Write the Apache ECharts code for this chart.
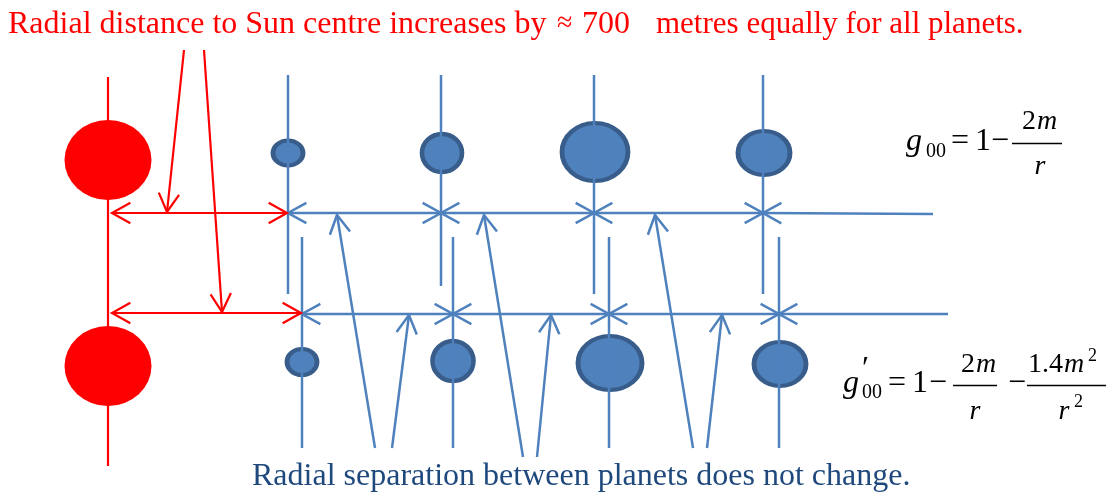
<!DOCTYPE html>
<html>
<head>
<meta charset="utf-8">
<script src="https://cdn.jsdelivr.net/npm/echarts@6/dist/echarts.min.js"></script>
<style>
  html, body { margin: 0; padding: 0; background: #fff; }
  #main { width: 1113px; height: 496px; }
</style>
</head>
<body>
<div id="main"></div>
<script>
// Diagram units: x to the right, y downwards, one unit per pixel of the figure
const RED = '#FF0000';
const BLUE = '#4F81BD';
const BLUE_DARK = '#385D8A';
const TEXT_BLUE = '#1F497D';
const SERIF = '"Liberation Serif", "Times New Roman", serif';

// Sun in both panels: [x, y, width, height]
const sunBodies = [[108, 160, 87, 80], [108, 366, 87, 80]];
// planets, upper panel (g00) and lower panel (g'00): [x, y, width, height]
const planetsBefore = [[288, 153, 30, 25], [442, 153, 40, 38], [595, 152, 66, 58], [764, 153, 52, 44]];
const planetsAfter = [[302, 362, 30, 26], [453, 361, 41, 40], [610, 363, 64, 54], [780, 364, 52, 44]];

// segments: [x1, y1, x2, y2, arrow at start, arrow at end]
const sunAxis = [[108, 77, 108, 466, 0, 0]];
const planetAxesBefore = [[288, 75, 288, 294, 0, 0], [441, 75, 441, 286, 0, 0], [594, 75, 594, 294, 0, 0], [763, 75, 763, 294, 0, 0]];
const planetAxesAfter = [[302, 237, 302, 448, 0, 0], [453, 237, 453, 448, 0, 0], [609, 237, 609, 448, 0, 0], [779, 237, 779, 448, 0, 0]];
const radialBefore = [[288, 213, 441, 213, 1, 1], [441, 213, 594, 213, 1, 1], [594, 213, 763, 213, 1, 1], [763, 213, 933, 214, 1, 0]];
const radialAfter = [[302, 314, 453, 314, 1, 1], [453, 314, 609, 314, 1, 1], [609, 314, 779, 314, 1, 1], [779, 314, 948, 314, 1, 0]];
const sunDistance = [[112, 213, 287, 213, 1, 1], [112, 313, 301, 313, 1, 1]];
const topPointers = [[184, 50, 167, 212, 0, 1], [204, 50, 222, 312, 0, 1]];
const bottomPointers = [
  [375, 448, 337, 215, 0, 1], [392, 448, 409, 315, 0, 1],
  [523, 457, 484, 215, 0, 1], [537, 457, 551, 315, 0, 1],
  [693, 448, 655, 215, 0, 1], [707, 448, 722, 315, 0, 1]
];

const chart = echarts.init(document.getElementById('main'));

// open "V" arrow head with its tip at `tip`, pointing away from `from`
function chevron(tip, from, color, width) {
  const ang = Math.atan2(from[1] - tip[1], from[0] - tip[0]);
  const len = 21;
  const spread = Math.PI / 6.2;
  return {
    type: 'polyline',
    shape: {
      points: [
        [tip[0] + len * Math.cos(ang + spread), tip[1] + len * Math.sin(ang + spread)],
        tip,
        [tip[0] + len * Math.cos(ang - spread), tip[1] + len * Math.sin(ang - spread)]
      ]
    },
    style: { stroke: color, lineWidth: width, fill: null }
  };
}

function segments(data, color, width) {
  return {
    type: 'custom',
    coordinateSystem: 'cartesian2d',
    data: data,
    clip: false,
    silent: true,
    z: 3,
    renderItem: function (params, api) {
      const a = api.coord([api.value(0), api.value(1)]);
      const b = api.coord([api.value(2), api.value(3)]);
      const children = [{
        type: 'line',
        shape: { x1: a[0], y1: a[1], x2: b[0], y2: b[1] },
        style: { stroke: color, lineWidth: width }
      }];
      if (api.value(4)) children.push(chevron(a, b, color, width));
      if (api.value(5)) children.push(chevron(b, a, color, width));
      return { type: 'group', children: children };
    }
  };
}

function bodies(data, fill, border) {
  return {
    type: 'scatter',
    data: data,
    silent: true,
    z: 2,
    symbol: 'circle',
    symbolSize: function (val) { return [val[2], val[3]]; },
    itemStyle: { color: fill, borderColor: border || fill, borderWidth: border ? 4.5 : 0, opacity: 1 }
  };
}

// text placed by its baseline
function txt(str, x, baseline, size, opts) {
  opts = opts || {};
  return {
    type: 'text',
    x: x,
    y: baseline - 0.34 * size,
    silent: true,
    style: {
      text: str,
      fill: opts.color || '#000',
      fontSize: size,
      fontFamily: SERIF,
      fontStyle: opts.italic ? 'italic' : 'normal',
      align: opts.align || 'left',
      verticalAlign: 'middle'
    }
  };
}

function bar(x1, x2, y) {
  return { type: 'line', silent: true, shape: { x1: x1, y1: y, x2: x2, y2: y }, style: { stroke: '#000', lineWidth: 1.4 } };
}

const I = { italic: true };

chart.setOption({
  animation: false,
  grid: { left: 0, right: 0, top: 0, bottom: 0 },
  xAxis: { type: 'value', min: 0, max: 1113, show: false },
  yAxis: { type: 'value', min: 0, max: 496, inverse: true, show: false },
  series: [
    segments(sunAxis, RED, 2.2),
    bodies(sunBodies, RED),
    bodies(planetsBefore, BLUE, BLUE_DARK),
    bodies(planetsAfter, BLUE, BLUE_DARK),
    segments(planetAxesBefore, BLUE, 2.5),
    segments(planetAxesAfter, BLUE, 2.5),
    segments(radialBefore, BLUE, 2.5),
    segments(radialAfter, BLUE, 2.5),
    segments(bottomPointers, BLUE, 2.5),
    segments(sunDistance, RED, 2.2),
    segments(topPointers, RED, 2.2)
  ],
  graphic: [
    // headline
    txt('Radial distance to Sun centre increases by', 8, 35, 32, { color: RED }),
    txt('\u2248', 557, 33, 28, { color: RED }),
    txt('700', 582, 35, 32, { color: RED }),
    txt('metres equally for all planets.', 656, 35, 31, { color: RED }),
    // footer
    txt('Radial separation between planets does not change.', 252, 487, 32, { color: TEXT_BLUE }),

    // g00 = 1 - 2m/r
    txt('g', 906, 152, 32, I),
    txt('00', 926, 159, 20),
    txt('=', 960, 152, 32, { align: 'center' }),
    txt('1', 983, 152, 32, { align: 'center' }),
    txt('\u2212', 1000, 152, 32, { align: 'center' }),
    bar(1012, 1062, 143.5),
    txt('2', 1036, 131, 28, { align: 'right' }),
    txt('m', 1037, 131, 28, I),
    txt('r', 1040, 176, 28, { italic: true, align: 'center' }),

    // g'00 = 1 - 2m/r - 1.4m^2/r^2
    txt('g', 843, 394, 32, I),
    txt('\u2032', 862, 380, 32),
    txt('00', 862, 400, 20),
    txt('=', 897, 394, 32, { align: 'center' }),
    txt('1', 920, 394, 32, { align: 'center' }),
    txt('\u2212', 938, 394, 32, { align: 'center' }),
    bar(953, 997, 385.5),
    txt('2', 975, 374, 28, { align: 'right' }),
    txt('m', 976, 374, 28, I),
    txt('r', 975, 421, 28, { italic: true, align: 'center' }),
    txt('\u2212', 1017, 394, 32, { align: 'center' }),
    bar(1027, 1106, 385.5),
    txt('1.4', 1063, 374, 28, { align: 'right' }),
    txt('m', 1064, 374, 28, I),
    txt('2', 1088, 362, 18),
    txt('r', 1064, 421, 28, { italic: true, align: 'center' }),
    txt('2', 1074, 408, 18)
  ]
});
</script>
</body>
</html>
